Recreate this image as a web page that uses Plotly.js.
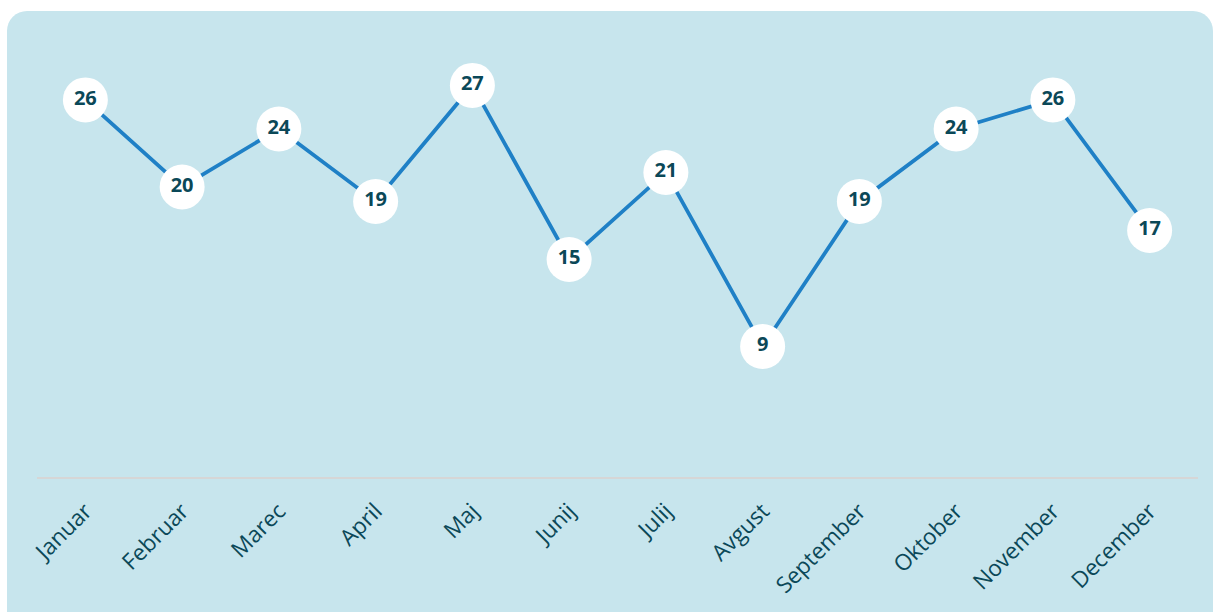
<!DOCTYPE html>
<html>
<head>
<meta charset="utf-8">
<script src="https://cdn.plot.ly/plotly-3.0.1.min.js"></script>
<style>
  html, body { margin:0; padding:0; background:#ffffff; width:1215px; height:612px; overflow:hidden; }
  #panel { position:absolute; left:7px; top:11px; width:1206px; height:640px; background:#c7e5ed; border-radius:20px; }
  #chart { position:absolute; left:0; top:0; width:1215px; height:612px; }
</style>
</head>
<body>
<div id="panel"></div>
<div id="chart"></div>
<script>
const months = ["Januar","Februar","Marec","April","Maj","Junij","Julij","Avgust","September","Oktober","November","December"];
const values = [26, 20, 24, 19, 27, 15, 21, 9, 19, 24, 26, 17];

const textColor = "#0b4858";
const lineColor = "#1f80c6";

const trace = {
  x: months,
  y: values,
  type: "scatter",
  mode: "lines+markers+text",
  text: values.map(String),
  textposition: "middle center",
  textfont: { family: "Open Sans", size: 20, color: textColor, weight: 700 },
  line: { color: lineColor, width: 3.8 },
  marker: { size: 45, color: "#ffffff", line: { width: 0 } },
  hoverinfo: "skip",
  cliponaxis: false
};

const layout = {
  width: 1215,
  height: 612,
  margin: { l: 37, r: 17, t: 39, b: 135 },
  paper_bgcolor: "rgba(0,0,0,0)",
  plot_bgcolor: "rgba(0,0,0,0)",
  showlegend: false,
  font: { family: "Open Sans", color: textColor },
  xaxis: {
    type: "category",
    range: [-0.5, 11.5],
    showgrid: false,
    zeroline: false,
    showline: true,
    linecolor: "#d6d6d6",
    linewidth: 2,
    ticks: "",
    tickangle: -45,
    ticklabelstandoff: 10,
    tickfont: { family: "Open Sans", size: 22.5, color: textColor },
    fixedrange: true
  },
  yaxis: {
    range: [0, 30.2],
    showgrid: false,
    zeroline: false,
    showline: false,
    showticklabels: false,
    ticks: "",
    fixedrange: true
  }
};

Plotly.newPlot("chart", [trace], layout, { displayModeBar: false, staticPlot: true });
</script>
</body>
</html>
